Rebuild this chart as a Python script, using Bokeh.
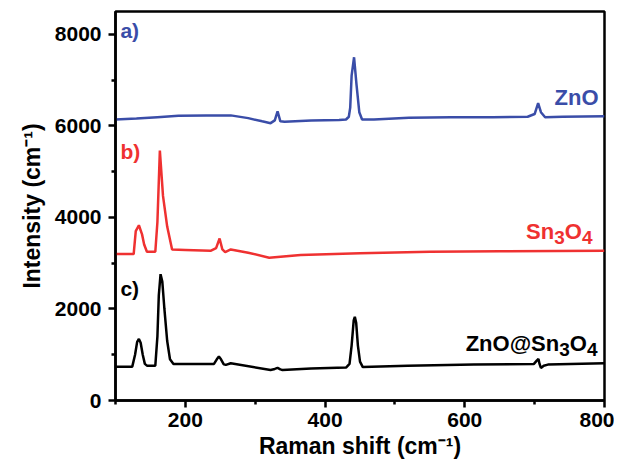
from bokeh.plotting import figure
from bokeh.models import FixedTicker, Range1d
from bokeh.core.properties import value
from bokeh.embed import file_html
from bokeh.resources import INLINE

# ---- data ----
zno_x = [100, 130, 160, 190, 230, 265, 290, 310, 322, 328, 332, 336, 342, 380, 420,
         430, 434, 436, 438, 441.5, 445, 449, 453, 470, 520, 580, 640, 690, 700, 705,
         709, 715, 740, 800]
zno_y = [6140, 6160, 6190, 6220, 6230, 6230, 6170, 6100, 6060, 6120, 6320, 6100, 6090, 6120, 6130,
         6140, 6200, 6400, 7100, 7500, 6900, 6300, 6140, 6140, 6180, 6190, 6190, 6200, 6260, 6500,
         6300, 6190, 6200, 6210]

sn_x = [100, 126, 129, 133.5, 138, 141, 145, 157, 160, 163.5, 168, 174, 181, 200, 236,
        244, 249, 253, 257, 265, 290, 320, 365, 450, 550, 650, 800]
sn_y = [3200, 3200, 3700, 3830, 3630, 3410, 3250, 3250, 3900, 5460, 4470, 3800, 3300, 3290, 3270,
        3330, 3540, 3300, 3240, 3300, 3230, 3120, 3180, 3220, 3250, 3260, 3270]

mix_x = [100, 124, 128, 131, 133.5, 136, 139, 142, 145, 157, 160, 162, 164.5, 167, 170,
         174, 178, 183, 241, 245, 248, 251, 255, 258, 265, 322, 328, 332, 336, 339,
         380, 430, 435, 438, 441, 442.6, 444.5, 447, 450, 454, 518, 613, 699, 703, 705.5,
         707, 709, 713, 719, 800]
mix_y = [740, 740, 1000, 1280, 1344, 1260, 1000, 800, 762, 762, 1400, 2300, 2760, 2600, 2000,
         1300, 900, 800, 800, 900, 960, 900, 790, 778, 814, 668, 690, 712, 680, 668,
         700, 720, 800, 1200, 1750, 1830, 1700, 1200, 850, 730, 762, 784, 800, 870, 908,
         800, 712, 760, 784, 813]

x_major = [200, 400, 600, 800]
x_minor = [100, 300, 500, 700]
y_major = [0, 2000, 4000, 6000, 8000]
y_minor = [1000, 3000, 5000, 7000]

BLUE = "#3A4DA8"
RED = "#EF3131"
BLACK = "#000000"
FONT = "Liberation Sans"

p = figure(width=614, height=465, output_backend="svg", toolbar_location=None,
           x_range=Range1d(100, 800), y_range=Range1d(0, 8500),
           min_border_left=115, min_border_right=10, min_border_top=11, min_border_bottom=65)
p.xgrid.visible = False
p.ygrid.visible = False
p.outline_line_color = "black"
p.outline_line_width = 2.5
p.background_fill_color = "white"
p.border_fill_color = "white"

p.line(zno_x, zno_y, line_color=BLUE, line_width=2.5)
p.line(sn_x, sn_y, line_color=RED, line_width=2.5)
p.line(mix_x, mix_y, line_color=BLACK, line_width=2.5)


def txt(x, y, s, color, size, align="right", baseline="alphabetic", xo=0, yo=0):
    p.text(x=[x], y=[y], text=[s], text_color=color, text_font=value(FONT),
           text_font_style="bold", text_font_size=size, text_align=align,
           text_baseline=baseline, x_offset=xo, y_offset=yo)


# panel letters
txt(107, 8080, "a)", BLUE, "21px", align="left", baseline="middle")
txt(107, 5450, "b)", RED, "21px", align="left", baseline="middle")
txt(107, 2440, "c)", BLACK, "21px", align="left", baseline="middle")

# series names (subscripts drawn as smaller, lowered pieces)
MAIN, SUB, DROP = "22px", "19px", 6
txt(800, 6620, "ZnO", BLUE, MAIN, xo=-6)

txt(800, 3700, "4", RED, SUB, xo=-12, yo=DROP)
txt(800, 3700, "O", RED, MAIN, xo=-22.6)
txt(800, 3700, "3", RED, SUB, xo=-39.7, yo=DROP)
txt(800, 3700, "Sn", RED, MAIN, xo=-50.3)

txt(800, 1240, "4", BLACK, SUB, xo=-7, yo=DROP)
txt(800, 1240, "O", BLACK, MAIN, xo=-17.6)
txt(800, 1240, "3", BLACK, SUB, xo=-34.7, yo=DROP)
txt(800, 1240, "ZnO@Sn", BLACK, MAIN, xo=-45.3)

for ax in (p.xaxis[0], p.yaxis[0]):
    ax.axis_line_width = 2.5
    ax.major_tick_line_width = 2.5
    ax.minor_tick_line_width = 2.5
    ax.major_tick_out = 7
    ax.major_tick_in = 0
    ax.minor_tick_out = 4
    ax.minor_tick_in = 0
    ax.major_label_text_font = FONT
    ax.major_label_text_font_style = "bold"
    ax.major_label_text_font_size = "21px"
    ax.major_label_text_color = "black"
    ax.axis_label_text_font = FONT
    ax.axis_label_text_font_style = "bold"
    ax.axis_label_text_font_size = "23px"
    ax.axis_label_text_color = "black"

p.xaxis.ticker = FixedTicker(ticks=x_major, minor_ticks=x_minor)
p.yaxis.ticker = FixedTicker(ticks=y_major, minor_ticks=y_minor)
p.xaxis.axis_label = "Raman shift (cm⁻¹)"
p.yaxis.axis_label = "Intensity (cm⁻¹)"
p.xaxis.major_label_standoff = 5
p.yaxis.major_label_standoff = 7
p.xaxis.axis_label_standoff = 3
p.yaxis.axis_label_standoff = 7

open("out.html", "w").write(file_html(p, INLINE))
